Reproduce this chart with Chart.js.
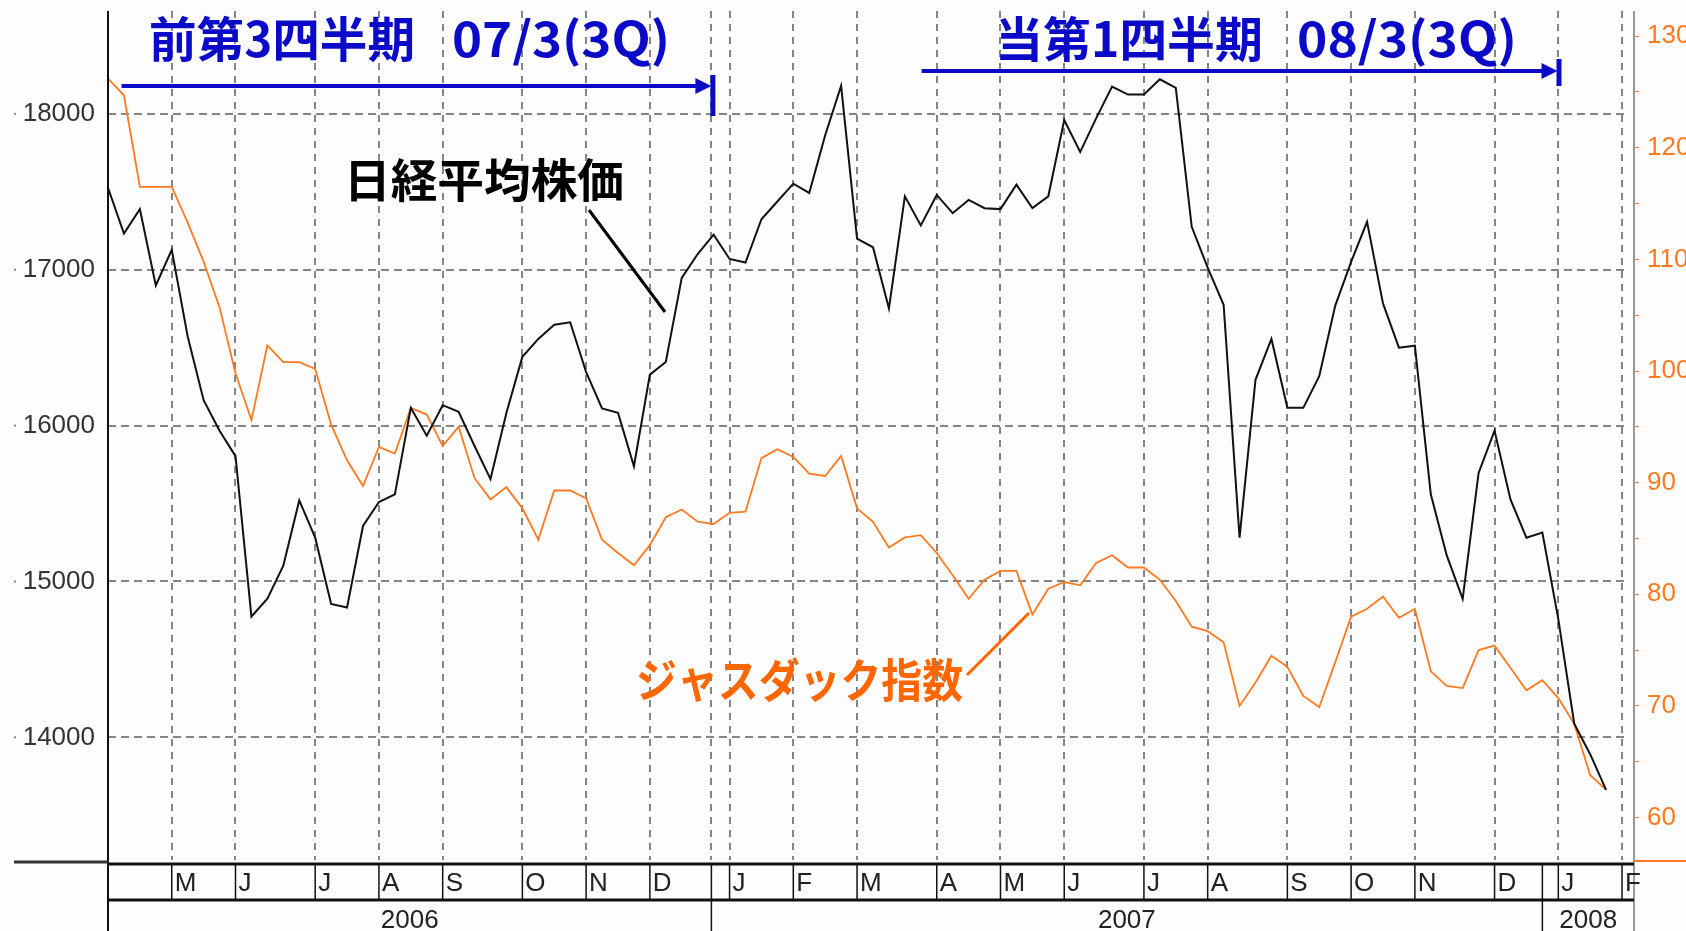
<!DOCTYPE html>
<html>
<head>
<meta charset="utf-8">
<title>日経平均株価とジャスダック指数</title>
<script src="https://cdn.jsdelivr.net/npm/chart.js@4.4.1/dist/chart.umd.min.js"></script>
<style>
  html, body { margin: 0; padding: 0; background: #fdfdfd; }
  #wrap { width: 1686px; height: 931px; position: relative; }
</style>
</head>
<body>
<div id="wrap"><canvas id="myChart"></canvas></div>
<script>
// weekly closes, first week = 2006/04/07 (x = week number)
const nikkei = [
  17526, 17232, 17389, 16899, 17127, 16572, 16163, 15967, 15804, 14775,
  14889, 15101, 15520, 15281, 14856, 14833, 15356, 15510, 15559, 16114,
  15935, 16131, 16088, 15869, 15657, 16082, 16441, 16556, 16647, 16663,
  16343, 16110, 16082, 15739, 16327, 16408, 16948, 17101, 17225, 17069,
  17046, 17324, 17438, 17552, 17493, 17863, 18180, 17200, 17144, 16752,
  17471, 17284, 17480, 17363, 17448, 17395, 17389, 17546, 17395, 17471,
  17961, 17755, 17971, 18175, 18124, 18124, 18222, 18167, 17275, 17013,
  16775, 15281, 16294, 16556, 16114, 16114, 16317, 16768, 17050, 17307,
  16784, 16500, 16513, 15559, 15167, 14889, 15696, 15967, 15526, 15281,
  15314, 14758, 14088, 13892, 13663
];
const jasdaq = [
  126.2, 124.7, 116.5, 116.5, 116.5, 113.3, 109.8, 105.7, 99.8, 95.6,
  102.3, 100.8, 100.8, 100.2, 95.2, 92.0, 89.7, 93.2, 92.6, 96.7,
  96.1, 93.3, 95.0, 90.4, 88.5, 89.6, 87.7, 84.9, 89.3, 89.3,
  88.6, 84.9, 83.7, 82.6, 84.4, 86.9, 87.6, 86.5, 86.3, 87.3,
  87.4, 92.2, 93.0, 92.3, 90.8, 90.6, 92.4, 87.7, 86.5, 84.2,
  85.1, 85.3, 83.7, 81.7, 79.6, 81.3, 82.1, 82.1, 78.2, 80.5,
  81.1, 80.8, 82.8, 83.5, 82.4, 82.4, 81.3, 79.4, 77.1, 76.7,
  75.7, 70.0, 72.1, 74.5, 73.5, 70.9, 69.9, 73.9, 78.0, 78.7,
  79.8, 77.9, 78.7, 73.1, 71.8, 71.6, 75.0, 75.4, 73.4, 71.4,
  72.3, 70.7, 68.4, 63.8, 62.5
];

// first week of each month
const monthWeeks  = [4, 8, 13, 17, 21, 26, 30, 34, 39, 43, 47, 52, 56, 60, 65, 69, 74, 78, 82, 87, 91, 95];
const monthLabels = ['M','J','J','A','S','O','N','D','J','F','M','A','M','J','J','A','S','O','N','D','J','F'];
const yearBreaks  = [37.86, 90];
const yearLabels  = ['2006', '2007', '2008'];
const leftTicks   = [14000, 15000, 16000, 17000, 18000];
const rightTicks  = [60, 65, 70, 75, 80, 85, 90, 95, 100, 105, 110, 115, 120, 125, 130];

const axisFont = '"Liberation Sans", Arial, sans-serif';
const jpFont = '"Noto Sans CJK JP", sans-serif';
const orange = '#ff7a1f';
const blue = '#0a0ac8';
const bg = '#fdfdfd';

function line(ctx, x0, y0, x1, y1, color, w) {
  ctx.beginPath();
  ctx.strokeStyle = color;
  ctx.lineWidth = w;
  ctx.moveTo(x0, y0);
  ctx.lineTo(x1, y1);
  ctx.stroke();
}

// text squeezed/stretched to a given width
function fitText(ctx, text, x0, x1, cy, font, color) {
  ctx.save();
  ctx.font = font;
  ctx.fillStyle = color;
  ctx.textAlign = 'left';
  ctx.textBaseline = 'middle';
  const w = ctx.measureText(text).width;
  ctx.translate(x0, cy);
  ctx.scale((x1 - x0) / w, 1);
  ctx.fillText(text, 0, 0);
  ctx.restore();
}

function arrow(ctx, x0, x1, y, barTop, barBottom) {
  line(ctx, x0, y, x1 - 14, y, blue, 4);
  ctx.beginPath();
  ctx.fillStyle = blue;
  ctx.moveTo(x1, y);
  ctx.lineTo(x1 - 16, y - 8);
  ctx.lineTo(x1 - 16, y + 8);
  ctx.closePath();
  ctx.fill();
  ctx.fillRect(x1 - 1, barTop, 5, barBottom - barTop);
}

// no extra room for half labels at the ends of the axes
function noPad(s) {
  s.paddingTop = 0;
  s.paddingBottom = 0;
  s.paddingLeft = 0;
  s.paddingRight = 0;
}

const framePlugin = {
  id: 'frame',
  beforeDatasetsDraw(chart) {
    // horizontal grid stops at the last month line
    const ctx = chart.ctx;
    const a = chart.chartArea;
    const xEnd = chart.scales.x.getPixelForValue(monthWeeks[monthWeeks.length - 1]);
    ctx.save();
    ctx.fillStyle = bg;
    ctx.fillRect(xEnd + 2, a.top, a.right - xEnd - 2, a.bottom - a.top);
    ctx.restore();
  },
  afterDraw(chart) {
    const ctx = chart.ctx;
    const a = chart.chartArea;
    const x = chart.scales.x;
    const y = chart.scales.y;
    const H = chart.height, W = chart.width;
    ctx.save();

    // axis frame
    line(ctx, a.left, a.top, a.left, H, '#111', 2);
    line(ctx, a.right, a.top, a.right, H, '#9a9a9a', 2);
    line(ctx, 14, a.bottom + 2, a.left, a.bottom + 2, '#333', 3);
    line(ctx, a.left, a.bottom + 4, a.right, a.bottom + 4, '#111', 3);
    line(ctx, a.right, a.bottom + 1, W, a.bottom + 1, orange, 2);
    const rowY = a.bottom + 40;
    line(ctx, a.left, rowY, a.right, rowY, '#111', 3);

    // little marks at the far left
    ctx.fillStyle = '#888';
    leftTicks.forEach(v => ctx.fillRect(14, y.getPixelForValue(v) - 1, 2, 2));

    // month row
    ctx.font = '26px ' + axisFont;
    ctx.fillStyle = '#222';
    ctx.textBaseline = 'middle';
    ctx.textAlign = 'left';
    monthWeeks.forEach((w, i) => {
      const px = x.getPixelForValue(w);
      line(ctx, px, a.bottom + 4, px, rowY, '#111', 1.5);
      ctx.fillText(monthLabels[i], px + 3, a.bottom + 24);
    });
    yearBreaks.forEach(w => {
      const px = x.getPixelForValue(w);
      line(ctx, px, a.bottom + 4, px, H, '#111', 1.5);
    });

    // year row
    const edges = [x.min].concat(yearBreaks, [x.max]);
    ctx.textAlign = 'center';
    yearLabels.forEach((t, i) => {
      const p0 = x.getPixelForValue(edges[i]);
      const p1 = x.getPixelForValue(edges[i + 1]);
      ctx.fillText(t, (p0 + p1) / 2, rowY + 21);
    });

    // period arrows and titles
    arrow(ctx, x.getPixelForValue(0.85), x.getPixelForValue(yearBreaks[0]), 86, 75, 116);
    arrow(ctx, x.getPixelForValue(51.05), x.getPixelForValue(90.95), 71, 59, 86);
    const titleFont = 'bold 48px ' + jpFont;
    fitText(ctx, '前第3四半期', 149, 415, 39, titleFont, blue);
    fitText(ctx, '07/3(3Q)', 452, 670, 39, titleFont, blue);
    fitText(ctx, '当第1四半期', 995, 1263, 39, titleFont, blue);
    fitText(ctx, '08/3(3Q)', 1297, 1517, 39, titleFont, blue);

    // series labels with leader lines
    fitText(ctx, '日経平均株価', 344, 624, 180, 'bold 46px ' + jpFont, '#000');
    line(ctx, 589, 210, 665, 312, '#000', 3);
    fitText(ctx, 'ジャスダック指数', 636, 963, 680, 'bold 46px ' + jpFont, '#ff6600');
    line(ctx, 967, 675, 1029, 613, '#ff6600', 3);

    ctx.restore();
  }
};

new Chart(document.getElementById('myChart').getContext('2d'), {
  type: 'line',
  data: {
    datasets: [
      {
        label: '日経平均株価',
        data: nikkei.map((v, i) => ({x: i, y: v})),
        yAxisID: 'y',
        borderColor: '#111',
        borderWidth: 2,
        pointRadius: 0,
        tension: 0
      },
      {
        label: 'ジャスダック指数',
        data: jasdaq.map((v, i) => ({x: i, y: v})),
        yAxisID: 'y2',
        borderColor: orange,
        borderWidth: 1.8,
        pointRadius: 0,
        tension: 0
      }
    ]
  },
  options: {
    responsive: true,
    maintainAspectRatio: false,
    animation: false,
    layout: {padding: {top: 11, left: 0, right: 0, bottom: 0}},
    plugins: {legend: {display: false}, tooltip: {enabled: false}},
    scales: {
      x: {
        type: 'linear',
        min: 0,
        max: 95.75,
        afterBuildTicks: s => { s.ticks = monthWeeks.concat([yearBreaks[0]]).map(v => ({value: v})); },
        afterFit: s => { s.height = 71; noPad(s); },
        ticks: {display: false},
        grid: {color: '#858585', lineWidth: 2, drawTicks: false},
        border: {display: false, dash: [7, 6]}
      },
      y: {
        position: 'left',
        min: 13213,
        max: 18660,
        afterBuildTicks: s => { s.ticks = leftTicks.map(v => ({value: v})); },
        afterFit: s => { s.width = 108; noPad(s); },
        ticks: {font: {family: axisFont, size: 26}, color: '#333', padding: 13, callback: v => String(v)},
        grid: {color: '#858585', lineWidth: 2, drawTicks: false},
        border: {display: false, dash: [8, 5]}
      },
      y2: {
        position: 'right',
        min: 56.2,
        max: 132.25,
        afterBuildTicks: s => { s.ticks = rightTicks.map(v => ({value: v})); },
        afterFit: s => { s.width = 52; noPad(s); },
        ticks: {font: {family: axisFont, size: 26}, color: orange, padding: 8,
                callback: v => (v % 10 === 0 ? String(v) : '')},
        grid: {drawOnChartArea: false, drawTicks: true, tickLength: 5, color: orange, lineWidth: 1},
        border: {display: false}
      }
    }
  },
  plugins: [framePlugin]
});
</script>
</body>
</html>
